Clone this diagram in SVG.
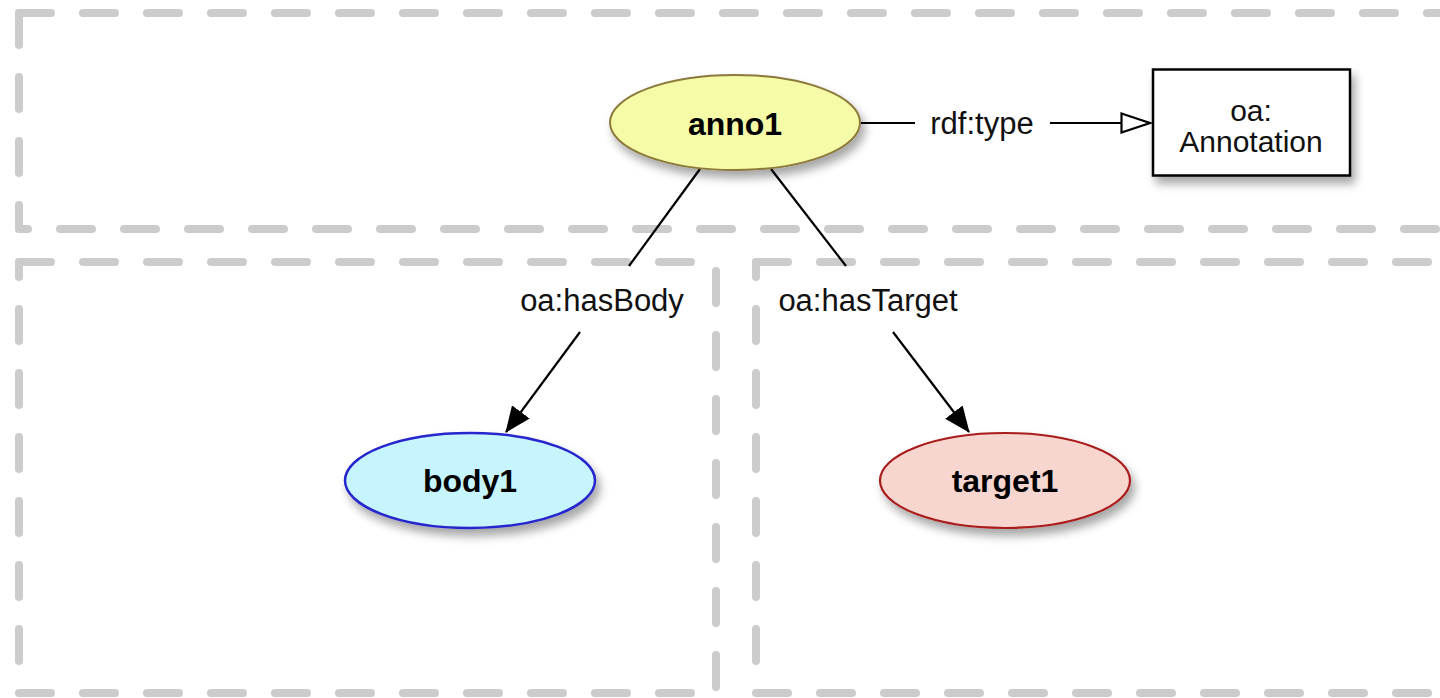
<svg xmlns="http://www.w3.org/2000/svg" width="1440" height="698" viewBox="0 0 1440 698">
  <style>
    .frame { fill: none; stroke: #cccccc; stroke-width: 8; stroke-linecap: round; stroke-dasharray: 32 32; }
    .edge { fill: none; stroke: #000000; stroke-width: 2.2; }
    .node-label { font-family: "Liberation Sans", Arial, Helvetica, sans-serif; font-size: 32px; font-weight: bold; fill: #000000; text-anchor: middle; }
    .edge-label { font-family: "Liberation Sans", Arial, Helvetica, sans-serif; font-size: 31px; fill: #111111; text-anchor: middle; }
    .class-label { font-family: "Liberation Sans", Arial, Helvetica, sans-serif; font-size: 30px; fill: #111111; text-anchor: middle; }
  </style>
  <defs>
    <filter id="shadow" x="-20%" y="-30%" width="150%" height="170%">
      <feDropShadow dx="4" dy="7" stdDeviation="5" flood-color="#000000" flood-opacity="0.35"/>
    </filter>
    <marker id="arrow-filled" viewBox="0 0 26 22" markerWidth="26" markerHeight="22" refX="25" refY="11" orient="auto" markerUnits="userSpaceOnUse">
      <path d="M0,0 L26,11 L0,22 Z" fill="#000000"/>
    </marker>
    <marker id="arrow-hollow" viewBox="0 0 32 22" markerWidth="32" markerHeight="22" refX="31" refY="11" orient="auto" markerUnits="userSpaceOnUse">
      <path d="M1.5,1.5 L30,11 L1.5,20.5 Z" fill="#ffffff" stroke="#000000" stroke-width="2.2" stroke-linejoin="miter"/>
    </marker>
  </defs>

  <rect width="1440" height="698" fill="#ffffff"/>

  <!-- dashed grouping frames -->
  <g id="frames">
    <path class="frame" d="M19,13 H1470"/>
    <path class="frame" d="M19,13 V229"/>
    <path class="frame" d="M19,229 H1470" stroke-dashoffset="23"/>

    <path class="frame" d="M19,262 H716"/>
    <path class="frame" d="M19,262 V693" stroke-dashoffset="17"/>
    <path class="frame" d="M716,262 V693" stroke-dashoffset="55"/>
    <path class="frame" d="M19,693 H716"/>

    <path class="frame" d="M756,262 H1470"/>
    <path class="frame" d="M756,262 V693" stroke-dashoffset="17"/>
    <path class="frame" d="M756,693 H1470"/>
  </g>

  <!-- connectors -->
  <g id="connectors">
    <g id="edge-type">
      <line class="edge" x1="861" y1="123" x2="915" y2="123"/>
      <line class="edge" x1="1050" y1="123" x2="1151" y2="123" marker-end="url(#arrow-hollow)"/>
      <text class="edge-label" x="982" y="134">rdf:type</text>
    </g>
    <g id="edge-body">
      <line class="edge" x1="700" y1="169" x2="629" y2="266"/>
      <line class="edge" x1="580" y1="332" x2="506" y2="432" marker-end="url(#arrow-filled)"/>
      <text class="edge-label" x="602" y="311">oa:hasBody</text>
    </g>
    <g id="edge-target">
      <line class="edge" x1="771" y1="169" x2="846" y2="266"/>
      <line class="edge" x1="893" y1="332" x2="969" y2="432" marker-end="url(#arrow-filled)"/>
      <text class="edge-label" x="868" y="311">oa:hasTarget</text>
    </g>
  </g>

  <!-- nodes -->
  <g id="anno1">
    <ellipse cx="735" cy="122.5" rx="125" ry="47.5" fill="#f5fba6" stroke="#8c7a3e" stroke-width="2" filter="url(#shadow)"/>
    <text class="node-label" x="735" y="135">anno1</text>
  </g>

  <g id="oa-annotation">
    <rect x="1153" y="69.5" width="197" height="106" fill="#ffffff" stroke="#000000" stroke-width="2.5" filter="url(#shadow)"/>
    <text class="class-label" x="1251" y="121">oa:</text>
    <text class="class-label" x="1251" y="152">Annotation</text>
  </g>

  <g id="body1">
    <ellipse cx="470" cy="480.5" rx="125" ry="47.5" fill="#c6f5fd" stroke="#2626cc" stroke-width="2.5" filter="url(#shadow)"/>
    <text class="node-label" x="470" y="492">body1</text>
  </g>

  <g id="target1">
    <ellipse cx="1005" cy="480.5" rx="125" ry="47.5" fill="#f8d6d0" stroke="#a81c1c" stroke-width="2.2" filter="url(#shadow)"/>
    <text class="node-label" x="1005" y="492">target1</text>
  </g>
</svg>
